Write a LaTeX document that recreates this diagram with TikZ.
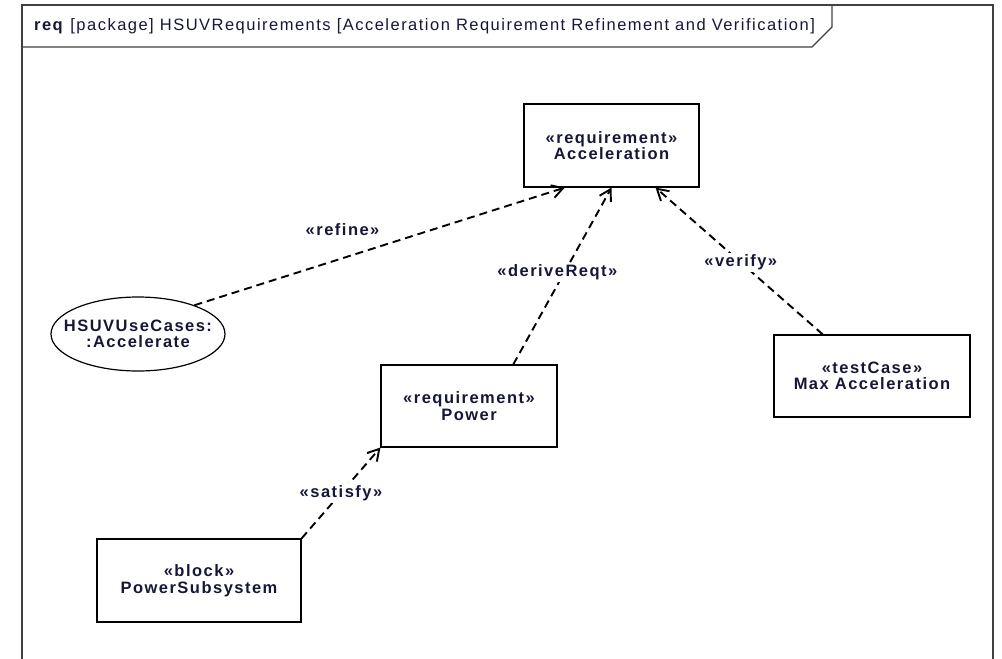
\documentclass[tikz,border=0pt]{standalone}
\usepackage{fontspec}
\setmainfont[LetterSpace=9]{Liberation Sans}
\usetikzlibrary{arrows.meta,shapes.geometric,calc}
\definecolor{umltext}{RGB}{22,22,56}
\begin{document}
\begin{tikzpicture}[x=1pt,y=-1pt,
    elem/.style={draw,line width=1.2pt,align=center,inner sep=0pt,text=umltext,
      font=\bfseries\fontsize{16.5}{16.6}\selectfont},
    trace/.style={line width=1.9pt,dash pattern=on 8pt off 5pt,
      -{Straight Barb[length=11pt,width=13pt]}},
    stereo/.style={text=umltext,inner sep=2pt,font=\bfseries\fontsize{16.5}{18}\selectfont}]
  \useasboundingbox (0,0) rectangle (1002,659);
  % frame with name tab
  \draw[line width=1.4pt,black!75] (22,659) -- (22,5) -- (993,5) -- (993,659);
  \draw[line width=1.2pt,black!75] (22,47) -- (812,47) -- (832,27) -- (832,5);
  \node[anchor=west,inner sep=0pt,text=umltext,font=\fontsize{16.5}{18}\selectfont] (title) at (34,26)
    {\textbf{req} [package] HSUVRequirements [Acceleration Requirement Refinement and Verification]};
  % elements
  \node[elem,minimum width=175pt,minimum height=83pt] (accel) at (611.5,145.5)
    {«requirement»\\Acceleration};
  \node[elem,ellipse,minimum width=174pt,minimum height=74pt] (usecase) at (138,334)
    {\makebox[0pt]{HSUVUseCases:}\\\makebox[0pt]{:Accelerate}};
  \node[elem,minimum width=176pt,minimum height=82pt] (power) at (469,406)
    {«requirement»\\Power};
  \node[elem,minimum width=196pt,minimum height=82pt] (maxacc) at (872,376)
    {«testCase»\\Max Acceleration};
  \node[elem,minimum width=204pt,minimum height=83pt] (powersub) at (199,580.5)
    {«block»\\PowerSubsystem};
  % relationships
  \draw[trace] (usecase.27) -- node[stereo,pos=0.4,above=29pt,anchor=center] (refine) {«refine»}
    ($(accel.south west)!0.235!(accel.south east)$);
  \draw[trace] ($(power.north west)!0.75!(power.north east)$)
    -- node[stereo,fill=white,pos=0.52,xshift=-7pt] (derive) {«deriveReqt»} (accel.south);
  \draw[trace] ($(maxacc.north west)!0.25!(maxacc.north east)$)
    -- node[stereo,fill=white,pos=0.49] (verify) {«verify»}
    ($(accel.south west)!0.75!(accel.south east)$);
  \draw[trace] (powersub.north east)
    -- node[stereo,fill=white,midway] (satisfy) {«satisfy»} (power.south west);
\end{tikzpicture}
\end{document}
